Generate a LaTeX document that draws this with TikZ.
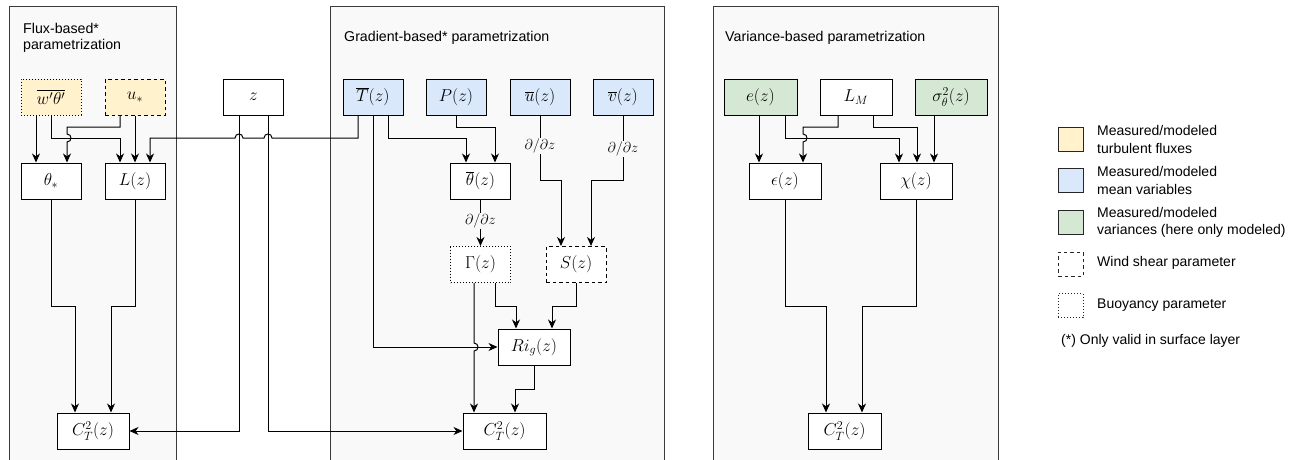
\documentclass[tikz,border=0pt]{standalone}
\usepackage{fontspec}
\newfontfamily\lib{Liberation Sans}
\usetikzlibrary{arrows.meta}
\definecolor{yel}{HTML}{FFF2CC}
\definecolor{blu}{HTML}{DAE8FC}
\definecolor{grn}{HTML}{D5E8D4}
\definecolor{panelbg}{HTML}{F9F9F9}
\definecolor{paneledge}{HTML}{3A3A3A}
\tikzset{
  box/.style={draw=black, line width=1pt, minimum width=60pt, minimum height=36pt, inner sep=0pt, font=\fontsize{17.28}{20}\selectfont},
  dotbox/.style={dash pattern=on 1pt off 2pt},
  dashbox/.style={dash pattern=on 3.5pt off 3pt},
  arr/.style={-{Stealth[length=9pt,width=8pt,inset=2.8pt]}, line width=1pt},
  thick arr/.style={arr, line width=1.7pt},
  panel/.style={draw=paneledge, fill=panelbg, line width=1pt},
  title/.style={font=\lib\fontsize{14.2}{16}\selectfont, anchor=west, align=left, inner sep=0pt},
  dz/.style={fill=panelbg, inner sep=1pt, font=\fontsize{14.4}{16}\selectfont},
  lbox/.style={draw=black!85, line width=1pt, minimum width=25pt, minimum height=24pt, inner sep=0pt},
  ltext/.style={font=\lib\fontsize{14}{17.5}\selectfont, anchor=west, align=left, inner sep=0pt},
}
\begin{document}
\begin{tikzpicture}[x=1pt,y=-1pt]
\useasboundingbox (0,0) rectangle (1298,460);
\clip (0,0) rectangle (1298,460);
% panels
\path[panel] (9,7) rectangle (176,475);
\path[panel] (330,7) rectangle (664,475);
\path[panel] (713,7) rectangle (998,475);
\node[title] (t1) at (23,37.5) {Flux-based*\\parametrization};
\node[title] (t2) at (344,38) {Gradient-based* parametrization};
\node[title] (t3) at (725,38) {Variance-based parametrization};

% flux nodes
\node[box, fill=yel, dotbox] (wt) at (51,97) {$\overline{w'\theta'}$};
\node[box, fill=yel, dashbox] (us) at (135,97) {$u_*$};
\node[box, fill=white] (z) at (253.5,97) {$z$};
\node[box, fill=white] (ths) at (51,181) {$\theta_*$};
\node[box, fill=white] (Lz) at (135,181) {$L(z)$};
\node[box, fill=white, minimum width=72pt] (C1) at (93,431) {$C_T^2(z)$};

% gradient nodes
\node[box, fill=blu] (T) at (373,97) {$\overline{T}(z)$};
\node[box, fill=blu] (P) at (456,97) {$P(z)$};
\node[box, fill=blu] (u) at (540,97) {$\overline{u}(z)$};
\node[box, fill=blu] (v) at (623,97) {$\overline{v}(z)$};
\node[box, fill=white] (th) at (480.5,181) {$\overline{\theta}(z)$};
\node[box, fill=white, dotbox] (G) at (480.5,264.5) {$\Gamma(z)$};
\node[box, fill=white, dashbox] (S) at (576,264.5) {$S(z)$};
\node[box, fill=white, minimum width=72pt] (Ri) at (534,347) {$Ri_g(z)$};
\node[box, fill=white, minimum width=83pt] (C2) at (504.5,431) {$C_T^2(z)$};

% variance nodes
\node[box, fill=grn, minimum width=73pt] (e) at (760.5,97) {$e(z)$};
\node[box, fill=white, minimum width=72pt] (LM) at (856,97) {$L_M$};
\node[box, fill=grn, minimum width=72pt] (sig) at (951,97) {$\sigma_\theta^2(z)$};
\node[box, fill=white, minimum width=72pt] (eps) at (785,181) {$\epsilon(z)$};
\node[box, fill=white, minimum width=72pt] (chi) at (916,181) {$\chi(z)$};
\node[box, fill=white, minimum width=73pt] (C3) at (844.5,431) {$C_T^2(z)$};

% flux connectors
\draw[arr] ([xshift=-15pt]wt.south) -- ([xshift=-15pt]ths.north);
\draw[arr] (wt.south) -- (51,138) -- (120,138) -- ([xshift=-15pt]Lz.north);
\draw[arr] ([xshift=-15pt]us.south) -- (120,127) -- (67,127) -- (67,134)
  .. controls (72.3,134) and (72.3,142) .. (67,142) -- ([xshift=16pt]ths.north);
\draw[arr] (us.south) -- (Lz.north);
\draw[arr] ([xshift=-15pt]T.south) -- (358,138) -- (272,138)
  .. controls (272,132.7) and (264,132.7) .. (264,138) -- (243,138)
  .. controls (243,132.7) and (235,132.7) .. (235,138) -- (150,138) -- ([xshift=15pt]Lz.north);
\draw[arr] ([xshift=-14.5pt]z.south) -- (239,431) -- (C1.east);
\draw[arr] ([xshift=14.5pt]z.south) -- (268,431) -- (C2.west);
\draw[arr] (ths.south) -- (51,306) -- (75,306) -- ([xshift=-18pt]C1.north);
\draw[arr] (Lz.south) -- (135,306) -- (111,306) -- ([xshift=18pt]C1.north);

% gradient connectors
\draw[arr] (T.south) -- (373,347) -- (Ri.west);
\draw[arr] ([xshift=15pt]T.south) -- (388,138) -- (466,138) -- ([xshift=-14.5pt]th.north);
\draw[arr] (P.south) -- (456,127) -- (495,127) -- ([xshift=14.5pt]th.north);
\draw[thick arr] (th.south) -- (G.north);
\node[dz] (d1) at (480.5,221) {$\partial/\partial z$};
\draw[arr] (u.south) -- (540,180) -- (561,180) -- ([xshift=-15pt]S.north);
\node[dz] (d2) at (540,146) {$\partial/\partial z$};
\draw[arr] (v.south) -- (623,180) -- (591,180) -- ([xshift=15pt]S.north);
\node[dz] (d3) at (623,149) {$\partial/\partial z$};
\draw[arr] ([xshift=-6.5pt]G.south) -- (474,343)
  .. controls (479.3,343) and (479.3,351) .. (474,351) -- ([xshift=-30.5pt]C2.north);
\draw[arr] ([xshift=14.5pt]G.south) -- (495,306) -- (516,306) -- ([xshift=-18pt]Ri.north);
\draw[arr] (S.south) -- (576,306) -- (552,306) -- ([xshift=18pt]Ri.north);
\draw[arr] (Ri.south) -- (534,389) -- (515,389) -- ([xshift=10.5pt]C2.north);

% variance connectors
\draw[arr] ([xshift=-1.5pt]e.south) -- ([xshift=-26pt]eps.north);
\draw[arr] ([xshift=24.5pt]e.south) -- (785,138) -- (899,138) -- ([xshift=-17pt]chi.north);
\draw[arr] ([xshift=-18pt]LM.south) -- (838,127) -- (803,127) -- (803,134)
  .. controls (808.3,134) and (808.3,142) .. (803,142) -- ([xshift=18pt]eps.north);
\draw[arr] ([xshift=17pt]LM.south) -- (873,127) -- (917,127) -- ([xshift=1pt]chi.north);
\draw[arr] ([xshift=-17pt]sig.south) -- ([xshift=18pt]chi.north);
\draw[arr] (eps.south) -- (785,306) -- (826,306) -- ([xshift=-18.5pt]C3.north);
\draw[arr] (chi.south) -- (916,306) -- (862,306) -- ([xshift=17.5pt]C3.north);

% legend
\node[lbox, fill=yel] (k1) at (1070.5,139) {};
\node[lbox, fill=blu] (k2) at (1070.5,180.5) {};
\node[lbox, fill=grn] (k3) at (1070.5,222) {};
\node[lbox, dashbox] (k4) at (1070.5,264) {};
\node[lbox, dotbox] (k5) at (1070.5,305.5) {};
\node[ltext] (l1) at (1097,139.5) {Measured/modeled\\turbulent fluxes};
\node[ltext] (l2) at (1097,180.5) {Measured/modeled\\mean variables};
\node[ltext] (l3) at (1097,222.5) {Measured/modeled\\variances (here only modeled)};
\node[ltext] (l4) at (1097,263) {Wind shear parameter};
\node[ltext] (l5) at (1097,305) {Buoyancy parameter};
\node[ltext] (l6) at (1061,341) {(*) Only valid in surface layer};
\end{tikzpicture}
\end{document}
